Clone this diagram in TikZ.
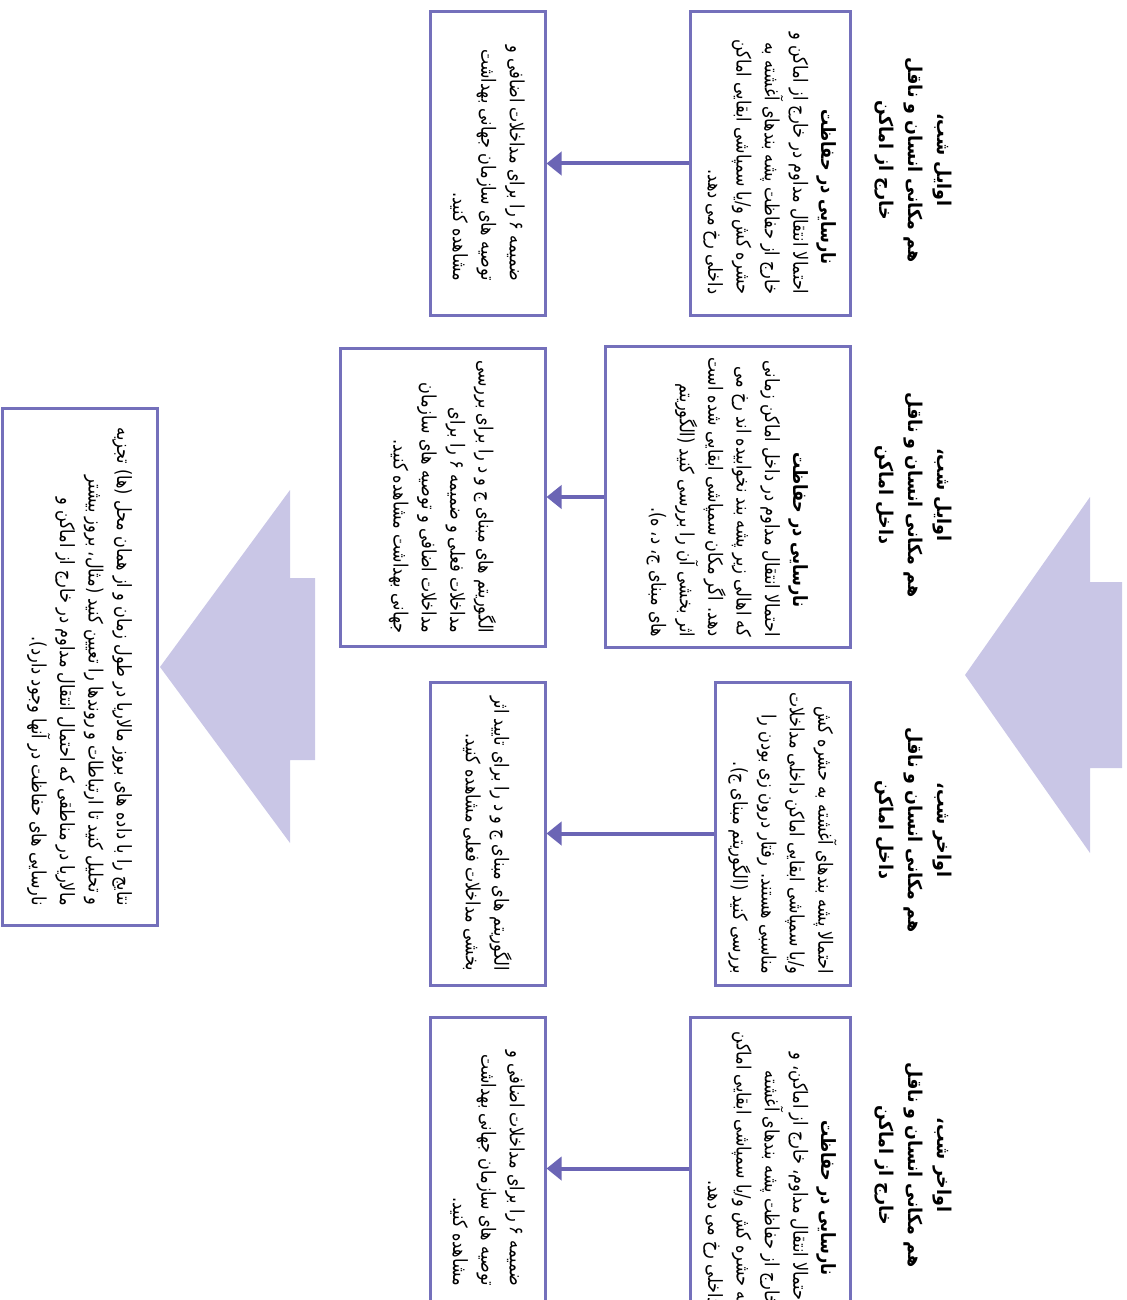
\documentclass[tikz,border=0pt]{standalone}
\usepackage{fontspec}
\setmainfont{DejaVu Sans}
\newfontfamily\fa[Script=Arabic,FakeStretch=0.82]{DejaVu Sans}
\newfontfamily\fah[Script=Arabic,FakeStretch=0.92]{DejaVu Sans}
\TeXXeTstate=1
\usetikzlibrary{arrows.meta}
\definecolor{boxc}{HTML}{7470BB}
\definecolor{arrc}{HTML}{6B65B5}
\definecolor{bigc}{HTML}{C9C6E6}
\newcommand{\rl}[1]{\beginR #1\endR}
\begin{document}
\begin{tikzpicture}[x=0.5pt,y=-0.5pt,
  box/.style={draw=boxc, line width=1.5pt, rotate=-90, inner sep=0pt,
    align=right, font=\fa\fontsize{9.8}{14.2}\selectfont},
  head/.style={rotate=-90, align=center, inner sep=0pt,
    font=\fah\bfseries\fontsize{9.5}{14.5}\selectfont},
  conn/.style={draw=arrc, line width=2pt, -{Triangle[length=7.5pt,width=11.5pt]}},
  bigarrow/.style={fill=bigc, draw=none}]
\useasboundingbox (0,0) rectangle (1126,1300);
\clip (0,0) rectangle (1126,1300);
% big arrows
\path[bigarrow] (965,675) -- (1090,497) -- (1090,582) -- (1122,582) -- (1122,768) -- (1090,768) -- (1090,853) -- cycle;
\path[bigarrow] (160,667) -- (290,490) -- (290,578) -- (315,578) -- (315,760) -- (290,760) -- (290,843) -- cycle;
% headers
\node[head] (h1) at (913,160) {\rl{اوایل شب،}\\ \rl{هم مکانی انسان و ناقل}\\ \rl{خارج از اماکن}};
\node[head] (h2) at (913,495) {\rl{اوایل شب،}\\ \rl{هم مکانی انسان و ناقل}\\ \rl{داخل اماکن}};
\node[head] (h3) at (913,830) {\rl{اواخر شب،}\\ \rl{هم مکانی انسان و ناقل}\\ \rl{داخل اماکن}};
\node[head] (h4) at (913,1165) {\rl{اواخر شب،}\\ \rl{هم مکانی انسان و ناقل}\\ \rl{خارج از اماکن}};
% column 1
\node[box, minimum width=151.5pt, minimum height=80pt] (a1) at (770,163.5) {%
{\bfseries\rl{نارسایی در حفاظت}}\hspace*{1.5em}\\
\rl{احتمالا انتقال مداوم در خارج از اماکن و}\\
\rl{خارج از حفاظت پشه بندهای آغشته به}\\
\rl{حشره کش و/یا سمپاشی ابقایی اماکن}\\
\rl{داخلی رخ می دهد.}};
\node[box, minimum width=151.5pt, minimum height=57.5pt] (b1) at (487.5,163.5) {%
\rl{ضمیمه ۶ را برای مداخلات اضافی و}\\
\rl{توصیه های سازمان جهانی بهداشت}\\
\rl{مشاهده کنید.}};
% column 2
\node[box, minimum width=150.5pt, minimum height=122.5pt] (a2) at (727.5,497) {%
{\bfseries\rl{نارسایی در حفاظت}}\hspace*{1.5em}\\
\rl{احتمالا انتقال مداوم در داخل اماکن زمانی}\\
\rl{که اهالی زیر پشه بند نخوابیده اند رخ می}\\
\rl{دهد. اگر مکان سمپاشی ابقایی شده است}\\
\rl{اثر بخشی آن را بررسی کنید (الگوریتم}\\
\rl{های مبنای ج، د، ه).}};
\node[box, minimum width=149pt, minimum height=102.5pt] (b2) at (442.5,497) {%
\rl{الگوریتم های مبنای ج و د را برای بررسی}\\
\rl{مداخلات فعلی و ضمیمه ۶ را برای}\\
\rl{مداخلات اضافی و توصیه های سازمان}\\
\rl{جهانی بهداشت مشاهده کنید.}};
% column 3
\node[box, minimum width=151.5pt, minimum height=67.5pt] (a3) at (782.5,833.5) {%
\rl{احتمالا پشه بندهای آغشته به حشره کش}\\
\rl{و/یا سمپاشی ابقایی اماکن داخلی مداخلات}\\
\rl{مناسبی هستند. رفتار درون زی بودن را}\\
\rl{بررسی کنید (الگوریتم مبنای ج).}};
\node[box, minimum width=151.5pt, minimum height=57.5pt] (b3) at (487.5,833.5) {%
\rl{الگوریتم های مبنای ج و د را برای تایید اثر}\\
\rl{بخشی مداخلات فعلی مشاهده کنید.}};
% column 4
\node[box, minimum width=151.5pt, minimum height=80pt] (a4) at (770,1168.5) {%
{\bfseries\rl{نارسایی در حفاظت}}\hspace*{1.5em}\\
\rl{احتمالا انتقال مداوم، خارج از اماکن، و}\\
\rl{خارج از حفاظت پشه بندهای آغشته}\\
\rl{به حشره کش و/یا سمپاشی ابقایی اماکن}\\
\rl{داخلی رخ می دهد.}};
\node[box, minimum width=151.5pt, minimum height=57.5pt] (b4) at (487.5,1168.5) {%
\rl{ضمیمه ۶ را برای مداخلات اضافی و}\\
\rl{توصیه های سازمان جهانی بهداشت}\\
\rl{مشاهده کنید.}};
% bottom box
\node[box, minimum width=258.5pt, minimum height=77.5pt] (c) at (79.5,666.5) {%
\rl{نتایج را با داده های بروز مالاریا در طول زمان و از همان محل (ها) تجزیه}\\
\rl{و تحلیل کنید تا ارتباطات و روندها را تعیین کنید (مثال، بروز بیشتر}\\
\rl{مالاریا در مناطقی که احتمال انتقال مداوم در خارج از اماکن و}\\
\rl{نارسایی های حفاظت در آنها وجود دارد).}};
% connectors
\draw[conn] (a1.south) -- (b1.north);
\draw[conn] (a2.south) -- (b2.north);
\draw[conn] (a3.south) -- (b3.north);
\draw[conn] (a4.south) -- (b4.north);
\end{tikzpicture}
\end{document}
